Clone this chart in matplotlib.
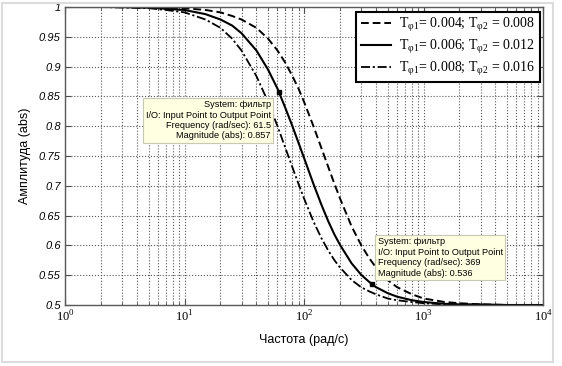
import numpy as np
import matplotlib
matplotlib.use("Agg")
import matplotlib.pyplot as plt
from matplotlib.patches import Rectangle
from matplotlib.ticker import FixedLocator, LogLocator, NullFormatter
from matplotlib import font_manager

plt.rcParams['font.family'] = ['Liberation Sans', 'DejaVu Sans']
plt.rcParams['mathtext.fontset'] = 'custom'
plt.rcParams['mathtext.rm'] = 'Liberation Serif'
plt.rcParams['mathtext.it'] = 'Liberation Sans:italic'

# frequency points (rad/s) and magnitudes
freq = [1, 2, 3, 5, 7, 10, 15, 20, 25, 30, 40, 50, 60, 70, 80, 90, 100, 120, 140,
        160, 180, 200, 250, 300, 350, 400, 500, 600, 800, 1000, 1500, 2000, 3000,
        5000, 10000]
mag_004 = [1.000, 1.000, 1.000, 0.999, 0.999, 0.998, 0.995, 0.991, 0.985, 0.979,
           0.965, 0.947, 0.927, 0.906, 0.884, 0.863, 0.841, 0.800, 0.763, 0.731,
           0.703, 0.679, 0.632, 0.601, 0.579, 0.563, 0.542, 0.530, 0.518, 0.511,
           0.505, 0.503, 0.501, 0.500, 0.500]
mag_006 = [1.000, 1.000, 1.000, 0.999, 0.997, 0.995, 0.988, 0.979, 0.969, 0.956,
           0.927, 0.895, 0.863, 0.830, 0.800, 0.772, 0.747, 0.703, 0.668, 0.640,
           0.618, 0.601, 0.570, 0.551, 0.539, 0.530, 0.520, 0.514, 0.508, 0.505,
           0.502, 0.501, 0.501, 0.500, 0.500]
mag_008 = [1.000, 1.000, 0.999, 0.998, 0.995, 0.991, 0.979, 0.965, 0.947, 0.927,
           0.884, 0.841, 0.800, 0.763, 0.731, 0.703, 0.679, 0.640, 0.612, 0.591,
           0.575, 0.563, 0.542, 0.530, 0.523, 0.518, 0.511, 0.508, 0.505, 0.503,
           0.501, 0.501, 0.500, 0.500, 0.500]

labels = [r'T$_{\mathrm{φ1}}$= 0.004; T$_{\mathrm{φ2}}$ = 0.008',
          r'T$_{\mathrm{φ1}}$= 0.006; T$_{\mathrm{φ2}}$ = 0.012',
          r'T$_{\mathrm{φ1}}$= 0.008; T$_{\mathrm{φ2}}$ = 0.016']

# data tips
tip_freq = [61.5, 369]
tip_mag = [0.857, 0.536]

yticks = [0.5, 0.55, 0.6, 0.65, 0.7, 0.75, 0.8, 0.85, 0.9, 0.95, 1]
ytick_labels = ['0.5', '0.55', '0.6', '0.65', '0.7', '0.75', '0.8', '0.85', '0.9', '0.95', '1']
xticks = [1, 10, 100, 1000, 10000]
xtick_labels = [r'$\mathit{10^{0}}$', r'$\mathit{10^{1}}$', r'$\mathit{10^{2}}$',
                r'$\mathit{10^{3}}$', r'$\mathit{10^{4}}$']

# narrow font for the data tips if it is there
names = {f.name for f in font_manager.fontManager.ttflist}
tip_family = 'Liberation Sans Narrow' if 'Liberation Sans Narrow' in names else 'Liberation Sans'
tip_size = 7.3 if tip_family == 'Liberation Sans Narrow' else 6.6

W, H = 562, 366
fig = plt.figure(figsize=(W / 100, H / 100), dpi=100)
fig.patches.append(Rectangle((2 / W, 4 / H), 551 / W, 359 / H, transform=fig.transFigure,
                             fill=False, edgecolor='#dcdcdc', lw=1.5))
ax = fig.add_axes([65 / W, (H - 305) / H, (543 - 65) / W, (305 - 7) / H])

ax.plot(freq, mag_004, color='black', lw=1.4, ls=(0, (4, 2)), label=labels[0])
ax.plot(freq, mag_006, color='black', lw=1.5, ls='-', label=labels[1])
ax.plot(freq, mag_008, color='black', lw=1.3, ls=(0, (5, 1.5, 1.2, 1.5)), label=labels[2])
ax.plot(tip_freq, tip_mag, 's', color='black', ms=3.5, ls='none')

ax.set_xscale('log')
ax.set_xlim(1, 10000)
ax.set_ylim(0.5, 1)
ax.xaxis.set_major_locator(FixedLocator(xticks))
ax.set_xticklabels(xtick_labels, fontsize=9)
ax.xaxis.set_minor_locator(LogLocator(base=10, subs=np.arange(2, 10)))
ax.xaxis.set_minor_formatter(NullFormatter())
ax.set_yticks(yticks)
ax.set_yticklabels(ytick_labels, fontsize=8, fontstyle='italic')
ax.tick_params(which='both', direction='in', top=True, right=True, color='0.3')
ax.tick_params(which='major', length=4, pad=3)
ax.tick_params(which='minor', length=2)
ax.grid(True, which='both', axis='x', ls=':', color='0.35', lw=0.8)
ax.grid(True, which='major', axis='y', ls=':', color='0.35', lw=0.8)
for s in ax.spines.values():
    s.set_color('0.35')
    s.set_linewidth(1)

ax.set_xlabel('Частота (рад/с)', fontsize=9)
ax.set_ylabel('Амплитуда (abs)', fontsize=9)
ax.xaxis.set_label_coords(0.5, -0.097)
ax.yaxis.set_label_coords(-0.072, 0.5)

leg = ax.legend(loc='upper right', bbox_to_anchor=(540 / W, 1 - 12 / H),
                bbox_transform=fig.transFigure, fancybox=False, framealpha=1,
                edgecolor='black', prop={'family': 'Liberation Serif', 'size': 10},
                handlelength=2.2, handletextpad=0.6, borderpad=0.3, labelspacing=0.25,
                borderaxespad=0)
leg.get_frame().set_linewidth(1.5)

tip_box = dict(boxstyle='square,pad=0.25', facecolor='#ffffe1', edgecolor='#c8c8b4', lw=0.8)
ax.annotate('System: фильтр\nI/O: Input Point to Output Point\n'
            'Frequency (rad/sec): %g\nMagnitude (abs): %g' % (tip_freq[0], tip_mag[0]),
            xy=(tip_freq[0], tip_mag[0]), xytext=(-8, -8), textcoords='offset pixels',
            ha='right', va='top', multialignment='right', fontsize=tip_size,
            family=tip_family, linespacing=1.2, bbox=tip_box)
ax.annotate('System: фильтр\nI/O: Input Point to Output Point\n'
            'Frequency (rad/sec): %g\nMagnitude (abs): %g' % (tip_freq[1], tip_mag[1]),
            xy=(tip_freq[1], tip_mag[1]), xytext=(6, 6), textcoords='offset pixels',
            ha='left', va='bottom', multialignment='left', fontsize=tip_size,
            family=tip_family, linespacing=1.2, bbox=tip_box)

fig.savefig('out.png', dpi=100)
